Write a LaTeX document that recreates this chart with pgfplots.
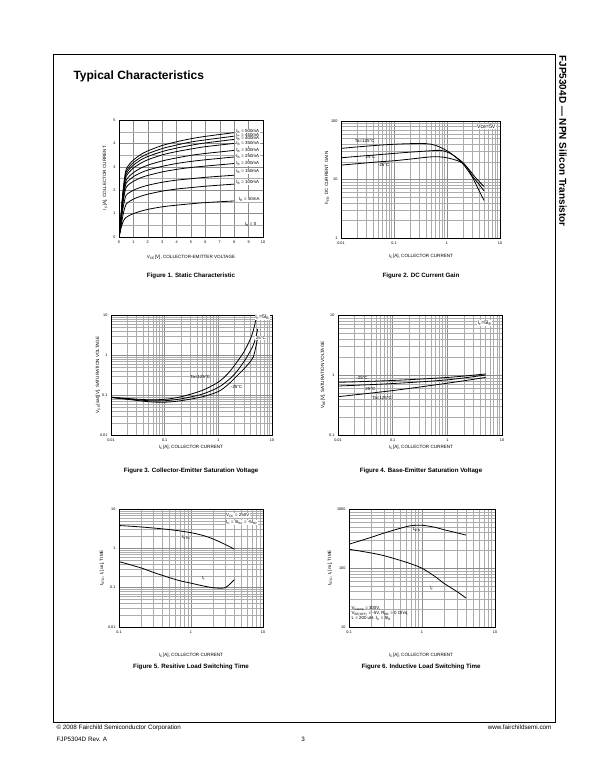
\documentclass[border=0pt]{standalone}
\usepackage{fontspec}
\setmainfont{Liberation Sans}
\usepackage{pgfplots}
\pgfplotsset{compat=1.18}
\pgfplotsset{
 ds/.style={
  scale only axis, anchor=south west,
  axis line style={line width=0.9pt,black},
  major tick length=0pt, minor tick length=0pt,
  grid=both,
  major grid style={gray!90,line width=0.5pt},
  minor grid style={gray!65,line width=0.35pt},
  tick label style={font=\fontsize{3.8}{4}\selectfont},
  /pgf/number format/assume math mode=true,
  clip mode=individual,
 },
 cv/.style={black,solid,line width=0.8pt,mark=none,smooth},
}
\newcommand{\lbl}{\fontsize{4.4}{5}\selectfont}
\newcommand{\axl}{\fontsize{4.6}{5.5}\selectfont}
\newcommand{\figcap}{\bfseries\fontsize{6.2}{7}\selectfont}
\begin{document}
\begin{tikzpicture}
\useasboundingbox[fill=white] (0pt,0pt) rectangle (600pt,776pt);
\draw[line width=0.8pt] (53pt,54pt) rectangle (555pt,722pt);
\node[anchor=base west, font=\bfseries\fontsize{12}{14}\selectfont] at (70pt,696pt) {Typical Characteristics};
\node[rotate=-90, anchor=west, font=\bfseries\fontsize{10}{12}\selectfont] at (563pt,724pt) {FJP5304D — NPN Silicon Transistor};
% footer
\node[anchor=base west, font=\fontsize{6.3}{7}\selectfont] at (53pt,46pt) {© 2008 Fairchild Semiconductor Corporation};
\node[anchor=base east, font=\fontsize{6.3}{7}\selectfont] at (555pt,46pt) {www.fairchildsemi.com};
\node[anchor=base west, font=\fontsize{6.3}{7}\selectfont] at (53pt,34pt) {FJP5304D Rev. A};
\node[anchor=base, font=\fontsize{6.3}{7}\selectfont] at (303pt,34pt) {3};

% ---------- Figure 1 ----------
\begin{axis}[ds, at={(119pt,539pt)}, width=144pt, height=117pt,
 xmin=0, xmax=10, ymin=0, ymax=5, xtick={0,...,10}, ytick={0,...,5}, minor y tick num=1]
\addplot[cv] coordinates {(0,0)(0.1,0.60)(0.2,1.43)(0.3,2.09)(0.4,2.58)(0.5,2.90)(0.75,3.13)(1,3.29)(1.5,3.52)(2,3.68)(3,3.91)(4,4.07)(5,4.20)(6,4.30)(8,4.46)};
\addplot[cv] coordinates {(0,0)(0.1,0.58)(0.2,1.38)(0.3,2.02)(0.4,2.49)(0.5,2.80)(0.75,3.02)(1,3.18)(1.5,3.40)(2,3.56)(3,3.78)(4,3.93)(5,4.06)(6,4.15)(8,4.31)};
\addplot[cv] coordinates {(0,0)(0.1,0.56)(0.2,1.33)(0.3,1.95)(0.4,2.40)(0.5,2.70)(0.75,2.92)(1,3.07)(1.5,3.29)(2,3.44)(3,3.65)(4,3.80)(5,3.92)(6,4.02)(8,4.17)};
\addplot[cv] coordinates {(0,0)(0.1,0.54)(0.2,1.28)(0.3,1.87)(0.4,2.31)(0.5,2.60)(0.75,2.80)(1,2.95)(1.5,3.15)(2,3.30)(3,3.51)(4,3.65)(5,3.76)(6,3.86)(8,4.00)};
\addplot[cv] coordinates {(0,0)(0.1,0.51)(0.2,1.21)(0.3,1.76)(0.4,2.17)(0.5,2.43)(0.75,2.62)(1,2.75)(1.5,2.94)(2,3.07)(3,3.25)(4,3.38)(5,3.49)(6,3.57)(8,3.70)};
\addplot[cv] coordinates {(0,0)(0.1,0.50)(0.2,1.16)(0.3,1.68)(0.4,2.06)(0.5,2.30)(0.75,2.46)(1,2.58)(1.5,2.74)(2,2.86)(3,3.02)(4,3.14)(5,3.23)(6,3.30)(8,3.42)};
\addplot[cv] coordinates {(0,0)(0.1,0.46)(0.2,1.08)(0.3,1.55)(0.4,1.90)(0.5,2.13)(0.75,2.28)(1,2.38)(1.5,2.53)(2,2.63)(3,2.78)(4,2.89)(5,2.97)(6,3.03)(8,3.14)};
\addplot[cv] coordinates {(0,0)(0.1,0.39)(0.2,0.90)(0.3,1.30)(0.4,1.60)(0.5,1.79)(0.75,1.91)(1,2.00)(1.5,2.12)(2,2.21)(3,2.34)(4,2.43)(5,2.49)(6,2.55)(8,2.64)};
\addplot[cv] coordinates {(0,0)(0.1,0.27)(0.2,0.68)(0.3,1.00)(0.4,1.25)(0.5,1.41)(0.75,1.53)(1,1.62)(1.5,1.74)(2,1.83)(3,1.96)(4,2.05)(5,2.11)(6,2.17)(8,2.26)};
\addplot[cv] coordinates {(0,0)(0.1,0.30)(0.2,0.50)(0.3,0.68)(0.4,0.78)(0.5,0.84)(0.75,0.93)(1,1.00)(1.5,1.10)(2,1.18)(3,1.29)(4,1.36)(5,1.42)(6,1.47)(8,1.54)};
\node[anchor=west,font=\lbl,inner sep=0.5pt,fill=white] at (axis cs:8.1,4.52) {I\textsubscript{B} = 500mA};
\node[anchor=west,font=\lbl,inner sep=0.5pt,fill=white] at (axis cs:8.1,4.35) {I\textsubscript{B} = 450mA};
\node[anchor=west,font=\lbl,inner sep=0.5pt,fill=white] at (axis cs:8.1,4.19) {I\textsubscript{B} = 400mA};
\node[anchor=west,font=\lbl,inner sep=0.5pt,fill=white] at (axis cs:8.1,4.01) {I\textsubscript{B} = 350mA};
\node[anchor=west,font=\lbl,inner sep=0.5pt,fill=white] at (axis cs:8.1,3.71) {I\textsubscript{B} = 300mA};
\node[anchor=west,font=\lbl,inner sep=0.5pt,fill=white] at (axis cs:8.1,3.44) {I\textsubscript{B} = 250mA};
\node[anchor=west,font=\lbl,inner sep=0.5pt,fill=white] at (axis cs:8.1,3.16) {I\textsubscript{B} = 200mA};
\node[anchor=west,font=\lbl,inner sep=0.5pt,fill=white] at (axis cs:8.1,2.80) {I\textsubscript{B} = 150mA};
\node[anchor=west,font=\lbl,inner sep=0.5pt,fill=white] at (axis cs:8.1,2.34) {I\textsubscript{B} = 100mA};
\node[anchor=west,font=\lbl,inner sep=0.5pt,fill=white] at (axis cs:8.3,1.62) {I\textsubscript{B} = 50mA};
\node[anchor=west,font=\lbl,inner sep=0.5pt] at (axis cs:8.7,0.55) {I\textsubscript{B} = 0};
\end{axis}
\node[font=\axl] at (191pt,519pt) {V\textsubscript{CE}[V], COLLECTOR-EMITTER VOLTAGE};
\node[font=\axl, rotate=90] at (105pt,598pt) {I\textsubscript{C}[A], COLLECTOR CURRENT};
\node[font=\figcap] at (191pt,500pt) {Figure 1. Static Characteristic};

% ---------- Figure 2 ----------
\begin{loglogaxis}[ds, at={(341pt,538pt)}, width=159pt, height=117pt,
 xmin=0.01, xmax=10, ymin=1, ymax=100,
 xtick={0.01,0.1,1,10}, xticklabels={0.01,0.1,1,10},
 ytick={1,10,100}, yticklabels={1,10,100}]
\addplot[cv] coordinates {(0.01,34)(0.02,36)(0.05,38.5)(0.1,40)(0.2,41)(0.4,41)(0.6,38.5)(1,31)(1.5,23.5)(2,18.5)(3,11)(4,6.5)(5,4.4)};
\addplot[cv] coordinates {(0.01,23.5)(0.02,24.8)(0.05,26.5)(0.1,27.9)(0.2,29.3)(0.5,31)(0.75,31.5)(1,29.5)(1.32,26)(2,19.5)(2.36,16.5)(3,11.5)(4,8.3)(5,6.4)};
\addplot[cv] coordinates {(0.01,17.6)(0.02,18.6)(0.05,20)(0.1,20.9)(0.2,22.3)(0.55,24.5)(1,23.5)(1.77,20.1)(2.5,15.5)(3.15,11.9)(4,9.3)(5,7.6)};
\node[font=\lbl,inner sep=0.5pt] at (axis cs:0.028,46) {Ta=125°C};
\node[font=\lbl,inner sep=0.5pt] at (axis cs:0.036,24.5) {25°C};
\node[font=\lbl,inner sep=0.5pt] at (axis cs:0.064,17.8) {-25°C};
\node[font=\fontsize{5.2}{6}\selectfont,inner sep=0.5pt,fill=white] at (axis cs:5.5,80) {Vce=5V};
\end{loglogaxis}
\node[font=\axl] at (421pt,520pt) {I\textsubscript{C}[A], COLLECTOR CURRENT};
\node[font=\axl, rotate=90] at (327pt,598pt) {h\textsubscript{FE}, DC CURRENT GAIN};
\node[font=\figcap] at (421pt,500pt) {Figure 2. DC Current Gain};

% ---------- Figure 3 ----------
\begin{loglogaxis}[ds, at={(111pt,341pt)}, width=161pt, height=120pt,
 xmin=0.01, xmax=10, ymin=0.01, ymax=10,
 xtick={0.01,0.1,1,10}, xticklabels={0.01,0.1,1,10},
 ytick={0.01,0.1,1,10}, yticklabels={0.01,0.1,1,10}]
\addplot[cv] coordinates {(0.01,0.088)(0.02,0.082)(0.05,0.076)(0.1,0.078)(0.2,0.09)(0.5,0.13)(1,0.21)(1.5,0.34)(2,0.55)(3,1.2)(4,2.6)(4.5,4.2)(5,7.5)(5.2,9.5)};
\addplot[cv] coordinates {(0.01,0.088)(0.02,0.08)(0.05,0.072)(0.1,0.072)(0.2,0.08)(0.5,0.105)(1,0.155)(1.5,0.23)(2,0.33)(3,0.68)(4,1.3)(4.5,1.8)(5,2.8)(5.4,4.5)};
\addplot[cv] coordinates {(0.01,0.086)(0.02,0.078)(0.05,0.068)(0.1,0.066)(0.2,0.072)(0.5,0.09)(1,0.122)(1.5,0.18)(2,0.26)(3,0.45)(4,0.7)(4.5,0.9)(5,1.6)(5.5,3)};
\node[font=\lbl,inner sep=0.5pt] at (axis cs:0.46,0.28) {Ta=125°C};
\node[font=\lbl,inner sep=0.5pt] at (axis cs:2.2,0.155) {-25°C};
\node[font=\lbl,inner sep=0.5pt,fill=white] at (axis cs:6.2,2.6) {25°C};
\node[font=\fontsize{5.2}{6}\selectfont,inner sep=0.5pt,fill=white] at (axis cs:6.6,8.8) {I\textsubscript{c}=5I\textsubscript{B}};
\end{loglogaxis}
\node[font=\axl] at (191pt,329pt) {I\textsubscript{C}[A], COLLECTOR CURRENT};
\node[font=\axl, rotate=90] at (98pt,401pt) {V\textsubscript{CE}(sat)[V], SATURATION VOLTAGE};
\node[font=\figcap] at (191pt,305pt) {Figure 3. Collector-Emitter Saturation Voltage};

% ---------- Figure 4 ----------
\begin{loglogaxis}[ds, at={(338pt,341pt)}, width=164pt, height=120pt,
 xmin=0.01, xmax=10, ymin=0.1, ymax=10,
 xtick={0.01,0.1,1,10}, xticklabels={0.01,0.1,1,10},
 ytick={0.1,1,10}, yticklabels={0.1,1,10}]
\addplot[cv] coordinates {(0.01,0.755)(0.1,0.81)(1,0.91)(5,1.04)};
\addplot[cv] coordinates {(0.01,0.655)(0.1,0.72)(1,0.83)(5,1.0)};
\addplot[cv] coordinates {(0.01,0.435)(0.1,0.55)(1,0.73)(5,0.91)};
\node[font=\lbl,inner sep=0.5pt] at (axis cs:0.0275,0.9) {-25°C};
\node[font=\lbl,inner sep=0.5pt] at (axis cs:0.039,0.577) {25°C};
\node[font=\lbl,inner sep=0.5pt] at (axis cs:0.064,0.408) {Ta=125°C};
\node[font=\fontsize{5.2}{6}\selectfont,inner sep=0.5pt,fill=white] at (axis cs:4.8,7.3) {I\textsubscript{c}=5I\textsubscript{B}};
\end{loglogaxis}
\node[font=\axl] at (421pt,329pt) {I\textsubscript{C}[A], COLLECTOR CURRENT};
\node[font=\axl, rotate=90] at (323pt,401pt) {V\textsubscript{BE}[V], SATURATION VOLTAGE};
\node[font=\figcap] at (421pt,305pt) {Figure 4. Base-Emitter Saturation Voltage};

% ---------- Figure 5 ----------
\begin{loglogaxis}[ds, at={(119pt,149pt)}, width=144pt, height=118pt,
 xmin=0.1, xmax=10, ymin=0.01, ymax=10,
 xtick={0.1,1,10}, xticklabels={0.1,1,10},
 ytick={0.01,0.1,1,10}, yticklabels={0.01,0.1,1,10}]
\addplot[cv] coordinates {(0.1,3.8)(0.2,3.5)(0.5,3.0)(1,2.5)(1.5,2.1)(2,1.75)(3,1.25)(4,0.95)};
\addplot[cv] coordinates {(0.1,0.46)(0.2,0.32)(0.3,0.245)(0.5,0.18)(0.7,0.15)(1,0.13)(1.5,0.11)(2,0.1)(2.5,0.097)(3,0.1)(3.5,0.125)(4,0.16)};
\node[font=\lbl,inner sep=0.5pt] at (axis cs:0.86,1.9) {t\textsubscript{STG}};
\node[font=\lbl,inner sep=0.5pt] at (axis cs:1.5,0.17) {t\textsubscript{f}};
\node[font=\lbl,anchor=west,inner sep=0.5pt,fill=white] at (axis cs:3.0,7.0) {V\textsubscript{CC} = 250V};
\node[font=\lbl,anchor=west,inner sep=0.5pt,fill=white] at (axis cs:3.0,4.6) {I\textsubscript{C} = 5I\textsubscript{B1} = -5I\textsubscript{B2}};
\end{loglogaxis}
\node[font=\axl] at (191pt,121pt) {I\textsubscript{C}[A], COLLECTOR CURRENT};
\node[font=\axl, rotate=90] at (102pt,208pt) {t\textsubscript{STG}, t\textsubscript{f} [us], TIME};
\node[font=\figcap] at (191pt,109pt) {Figure 5. Resitive Load Switching Time};

% ---------- Figure 6 ----------
\begin{loglogaxis}[ds, at={(349pt,149pt)}, width=146pt, height=118pt,
 xmin=0.1, xmax=10, ymin=10, ymax=1000,
 xtick={0.1,1,10}, xticklabels={0.1,1,10},
 ytick={10,100,1000}, yticklabels={10,100,1000}]
\addplot[cv] coordinates {(0.1,253)(0.2,330)(0.3,390)(0.5,470)(0.7,520)(1,530)(1.5,490)(2,445)(3,395)(4,362)};
\addplot[cv] coordinates {(0.1,208)(0.2,180)(0.3,162)(0.5,135)(0.7,118)(1,99)(1.5,72)(2,55)(3,40)(4,31)};
\node[font=\lbl,inner sep=0.5pt] at (axis cs:0.85,453) {t\textsubscript{STG}};
\node[font=\lbl,inner sep=0.5pt] at (axis cs:1.36,45.6) {t\textsubscript{f}};
\end{loglogaxis}
\node[font=\lbl,anchor=north west,align=left,inner sep=0.5pt] at (351pt,170pt) {V\textsubscript{Clamp} = 300V,\\V\textsubscript{BE(OFF)} = -5V, R\textsubscript{BB} = 0 Ohm,\\L = 200 uH, I\textsubscript{C} = 5I\textsubscript{B}};
\node[font=\axl] at (421pt,121pt) {I\textsubscript{C}[A], COLLECTOR CURRENT};
\node[font=\axl, rotate=90] at (330pt,208pt) {t\textsubscript{STG}, t\textsubscript{f} [ns], TIME};
\node[font=\figcap] at (421pt,109pt) {Figure 6. Inductive Load Switching Time};
\end{tikzpicture}
\end{document}
